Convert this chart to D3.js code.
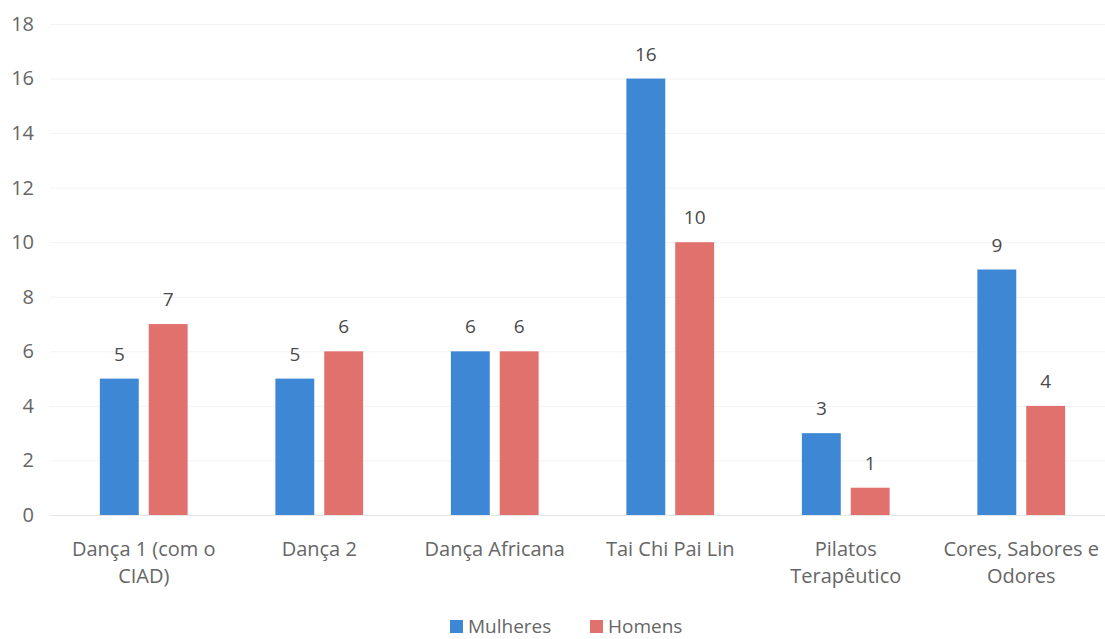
<!DOCTYPE html>
<html>
<head>
<meta charset="utf-8">
<script src="https://cdn.jsdelivr.net/npm/d3@7"></script>
<style>
  html, body { margin: 0; padding: 0; background: #ffffff; }
  svg { display: block; }
  text { font-family: "Open Sans", "Noto Sans", sans-serif; }
</style>
</head>
<body>
<svg id="chart" width="1105" height="639"></svg>
<script>
// Activity categories and participant counts by sex
const categories = [
  "Dança 1 (com o CIAD)",
  "Dança 2",
  "Dança Africana",
  "Tai Chi Pai Lin",
  "Pilatos Terapêutico",
  "Cores, Sabores e Odores"
];
const seriesNames = ["Mulheres", "Homens"];
const mulheres = [5, 5, 6, 16, 3, 9];
const homens = [7, 6, 6, 10, 1, 4];
const yTicks = [0, 2, 4, 6, 8, 10, 12, 14, 16, 18];
const colors = ["#3d87d5", "#e0716d"];

const rows = categories.map((c, i) => ({ category: c, values: [mulheres[i], homens[i]] }));

const svg = d3.select("#chart");
const margin = { left: 56, right: -4, top: 24, bottom: 124 };
const W = 1105, H = 639;

const x0 = d3.scaleBand()
  .domain(categories)
  .range([margin.left, W - margin.right])
  .paddingInner(0.5)
  .paddingOuter(0.25);

const x1 = d3.scaleBand()
  .domain(seriesNames)
  .range([0, x0.bandwidth()])
  .paddingInner(0.204);

const y = d3.scaleLinear()
  .domain([0, 18])
  .range([H - margin.bottom, margin.top]);

// Gridlines
svg.append("g")
  .selectAll("line")
  .data(yTicks)
  .join("line")
  .attr("x1", 50)
  .attr("x2", W)
  .attr("y1", d => y(d) + 0.5)
  .attr("y2", d => y(d) + 0.5)
  .attr("stroke", d => d === 0 ? "#e6e6e6" : "#f3f3f3")
  .attr("stroke-width", 1);

// Y axis labels
const yAxis = d3.axisLeft(y).tickValues(yTicks).tickSize(0).tickPadding(0);
const gy = svg.append("g")
  .attr("transform", "translate(34,0)")
  .call(yAxis);
gy.select(".domain").remove();
gy.selectAll("text")
  .attr("fill", "#666666")
  .style("font-size", "20px");

// Bars
const groups = svg.append("g")
  .selectAll("g")
  .data(rows)
  .join("g")
  .attr("transform", d => `translate(${x0(d.category)},0)`);

groups.selectAll("rect")
  .data(d => d.values.map((v, k) => ({ key: seriesNames[k], value: v, k })))
  .join("rect")
  .attr("x", d => x1(d.key))
  .attr("width", x1.bandwidth())
  .attr("y", d => y(d.value))
  .attr("height", d => y(0) - y(d.value))
  .attr("fill", d => colors[d.k]);

// Value labels
groups.selectAll("text.val")
  .data(d => d.values.map((v, k) => ({ key: seriesNames[k], value: v, k })))
  .join("text")
  .attr("class", "val")
  .attr("x", d => x1(d.key) + x1.bandwidth() / 2)
  .attr("y", d => y(d.value) - 18)
  .attr("text-anchor", "middle")
  .attr("fill", "#4a4a4a")
  .style("font-size", "19px")
  .text(d => d.value);

// Category labels (wrapped to the band width)
const xAxis = d3.axisBottom(x0).tickSize(0).tickPadding(0);
const gx = svg.append("g")
  .attr("transform", `translate(0,${y(0)})`)
  .call(xAxis);
gx.select(".domain").remove();
gx.selectAll("text")
  .attr("fill", "#666666")
  .style("font-size", "20px")
  .attr("dy", null)
  .attr("y", 0)
  .each(function (d) {
    const t = d3.select(this);
    const words = d.split(" ");
    const maxW = 165;
    t.text(null);
    let line = [];
    let lineNo = 0;
    let tspan = t.append("tspan").attr("x", 0).attr("y", 41);
    words.forEach(w => {
      line.push(w);
      tspan.text(line.join(" "));
      if (tspan.node().getComputedTextLength() > maxW && line.length > 1) {
        line.pop();
        tspan.text(line.join(" "));
        line = [w];
        lineNo += 1;
        tspan = t.append("tspan").attr("x", 0).attr("y", 41 + lineNo * 27).text(w);
      }
    });
  });

// Legend
const legendItems = [
  { name: seriesNames[0], color: colors[0], x: 450 },
  { name: seriesNames[1], color: colors[1], x: 590 }
];
const legend = svg.append("g");
legendItems.forEach(it => {
  legend.append("rect")
    .attr("x", it.x)
    .attr("y", 620)
    .attr("width", 13)
    .attr("height", 13)
    .attr("fill", it.color);
  legend.append("text")
    .attr("x", it.x + 18)
    .attr("y", 633)
    .attr("fill", "#666666")
    .style("font-size", "19px")
    .text(it.name);
});
</script>
</body>
</html>
